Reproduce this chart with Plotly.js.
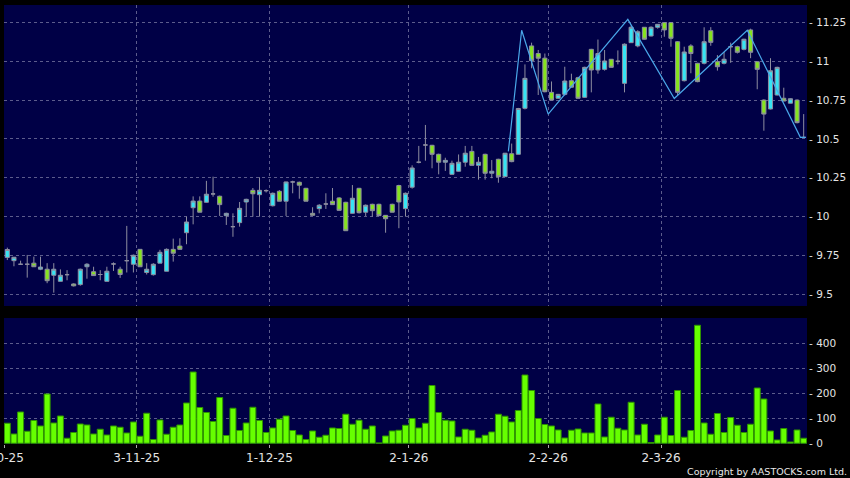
<!DOCTYPE html>
<html>
<head>
<meta charset="utf-8">
<script src="https://cdn.plot.ly/plotly-3.0.1.min.js"></script>
<style>
html,body{margin:0;padding:0;background:#000;}
#chart{width:850px;height:478px;}
</style>
</head>
<body>
<div id="chart"></div>
<script>
// ---- data (trading-day index 0 = 2-10-25) ----
const openP = [9.737,9.716,9.693,9.693,9.70,9.661,9.661,9.622,9.583,9.626,
9.566,9.562,9.677,9.645,9.627,9.583,9.695,9.661,9.716,9.693,
9.789,9.64,9.626,9.70,9.648,9.789,9.81,9.896,10.057,10.10,
10.092,10.146,10.131,10.006,9.935,9.961,10.094,10.169,10.141,10.167,
10.07,10.163,10.099,10.223,10.221,10.182,10.021,10.051,10.081,10.099,
10.12,10.092,10.021,10.182,10.028,10.079,10.079,10.008,10.079,10.20,
10.051,10.189,10.35,10.461,10.459,10.401,10.35,10.272,10.292,10.35,
10.42,10.33,10.401,10.279,10.369,10.257,10.405,10.401,10.697,11.099,
11.05,11.02,10.80,10.762,10.787,10.875,10.894,10.768,11.077,10.944,
10.948,11.013,11.0,10.858,11.12,11.099,11.219,11.163,11.219,11.249,
11.249,11.126,10.875,11.099,10.987,10.987,11.197,10.997,10.987,11.094,
11.094,11.077,11.202,10.997,10.75,10.693,10.783,10.762,10.73,10.75,
10.51];
const highP = [9.80,9.74,9.716,9.753,9.742,9.742,9.70,9.70,9.66,9.655,
9.57,9.665,9.70,9.677,9.655,9.677,9.705,9.677,9.94,9.755,
9.79,9.70,9.70,9.786,9.795,9.858,9.86,10.0,10.13,10.13,
10.23,10.257,10.135,10.025,10.021,10.094,10.115,10.184,10.253,10.175,
10.155,10.17,10.225,10.231,10.225,10.185,10.06,10.08,10.15,10.184,
10.125,10.095,10.203,10.185,10.078,10.083,10.083,10.01,10.083,10.205,
10.155,10.33,10.455,10.59,10.462,10.405,10.379,10.36,10.40,10.455,
10.455,10.384,10.405,10.364,10.372,10.41,10.47,10.70,10.98,11.12,
11.073,11.05,10.87,10.79,10.965,10.92,10.90,10.965,11.08,11.14,
11.073,11.015,11.07,11.115,11.23,11.20,11.22,11.225,11.24,11.25,
11.25,11.13,11.094,11.11,10.99,11.219,11.22,11.04,11.06,11.12,
11.10,11.145,11.21,11.0,10.755,11.02,10.965,10.83,10.762,10.755,
10.66];
const lowP = [9.72,9.68,9.693,9.607,9.677,9.655,9.571,9.51,9.583,9.59,
9.55,9.555,9.60,9.62,9.59,9.583,9.65,9.605,9.64,9.64,
9.677,9.627,9.62,9.70,9.648,9.71,9.789,9.822,9.95,10.028,
10.09,10.128,10.004,9.946,9.87,9.935,10.0,10.0,10.0,10.155,
10.065,10.099,10.004,10.15,10.115,10.099,10.008,10.021,10.049,10.077,
10.04,9.909,10.02,10.02,10.004,10.0,10.006,9.896,10.028,9.925,
10.0,10.18,10.343,10.36,10.311,10.272,10.294,10.27,10.29,10.321,
10.33,10.238,10.238,10.247,10.218,10.255,10.35,10.40,10.69,10.955,
10.783,10.80,10.75,10.76,10.78,10.833,10.76,10.765,10.80,10.92,
10.94,10.96,10.98,10.80,11.12,11.09,11.14,11.16,11.21,11.158,
11.094,10.78,10.87,10.923,10.865,10.98,11.10,10.94,10.98,10.99,
11.05,11.07,11.02,10.82,10.553,10.69,10.78,10.744,10.73,10.60,
10.51];
const closeP = [9.788,9.738,9.693,9.693,9.677,9.675,9.587,9.661,9.622,9.626,
9.554,9.661,9.693,9.62,9.627,9.648,9.695,9.627,9.716,9.751,
9.677,9.661,9.693,9.77,9.789,9.764,9.789,9.965,10.10,10.028,
10.144,10.146,10.077,10.021,9.935,10.053,10.111,10.147,10.169,10.167,
10.15,10.099,10.223,10.223,10.202,10.099,10.008,10.073,10.081,10.077,
10.04,9.909,10.118,10.025,10.073,10.038,10.006,9.986,10.028,10.094,
10.15,10.313,10.35,10.461,10.401,10.35,10.362,10.343,10.35,10.408,
10.33,10.35,10.279,10.292,10.257,10.408,10.354,10.696,10.89,11.004,
11.02,10.804,10.75,10.787,10.873,10.833,10.762,10.961,10.944,11.05,
11.002,10.961,11.0,11.11,11.219,11.19,11.142,11.219,11.238,11.202,
11.148,10.80,11.06,11.05,10.869,11.126,11.122,10.965,11.013,11.094,
11.058,11.142,11.058,10.948,10.66,10.939,10.961,10.744,10.759,10.605,
10.51];
const volume = [80,37,125,48,91,69,197,81,109,20,
43,77,73,37,56,33,69,64,41,85,
28,120,15,93,36,64,73,161,285,143,
123,87,183,31,140,51,81,144,91,43,
61,96,109,51,33,15,49,24,32,61,
59,116,76,92,56,69,1,29,49,52,
72,99,61,80,231,123,92,89,25,56,
52,21,32,45,116,108,85,131,273,211,
99,75,69,53,21,52,57,41,41,157,
25,104,60,53,164,33,76,3,33,104,
31,211,24,51,472,81,36,119,43,103,
72,43,76,221,177,49,13,59,5,53,
20];
// zigzag pivots (position in trading days, price)
const zigPos = [75.5,77.5,81.5,93.5,100.5,111.5,119.5,120.3];
const zigVal = [10.42,11.20,10.66,11.27,10.76,11.20,10.51,10.51];
// month tick labels (position = trading-day index of first day of month)
const tickDay = [0,20,40,61,82,99];
const tickText = ['2-10-25','3-11-25','1-12-25','2-1-26','2-2-26','2-3-26'];
const priceTicks = [9.5,9.75,10,10.25,10.5,10.75,11,11.25];
const volTicks = [0,100,200,300,400];

// ---- build ----
const idx = openP.map((_, i) => i);
const tickPos = tickDay.map(d => d - 0.5);
const FONT = 'DejaVu Sans';
const GRID = '#5c5c8c';
const LBL = '#e4e4e4';

const candle = {
  type: 'candlestick', x: idx, open: openP, high: highP, low: lowP, close: closeP,
  xaxis: 'x', yaxis: 'y', whiskerwidth: 0,
  increasing: {fillcolor: '#36e4f4', line: {color: '#8e8ea0', width: 1}},
  decreasing: {fillcolor: '#86e41e', line: {color: '#8e8ea0', width: 1}},
  hoverinfo: 'skip', showlegend: false
};
const zig = {
  type: 'scatter', mode: 'lines', x: zigPos, y: zigVal, xaxis: 'x', yaxis: 'y',
  line: {color: '#4aa8ea', width: 1.2}, hoverinfo: 'skip', showlegend: false
};
const vol = {
  type: 'bar', x: idx, y: volume, xaxis: 'x2', yaxis: 'y2', width: 0.9,
  marker: {color: '#66ff00', line: {color: '#2f9400', width: 1}},
  hoverinfo: 'skip', showlegend: false
};

const layout = {
  width: 850, height: 478,
  margin: {l: 4, r: 43, t: 5, b: 34},
  paper_bgcolor: '#000000', plot_bgcolor: '#000046',
  font: {family: FONT, color: LBL},
  boxgap: 0.12,
  showlegend: false,
  xaxis: {
    domain: [0, 1], anchor: 'y', range: [-0.5, 120.5],
    rangeslider: {visible: false},
    tickmode: 'array', tickvals: tickPos, ticktext: tickText, showticklabels: false,
    ticks: '', showgrid: true, gridcolor: GRID, griddash: '3px,3px', gridwidth: 1,
    zeroline: false, showline: false
  },
  yaxis: {
    domain: [0.3144, 1], anchor: 'x', side: 'right', range: [9.4243, 11.3625],
    tickmode: 'array', tickvals: priceTicks,
    ticktext: priceTicks.map(v => '- ' + String(v)),
    ticks: '', ticklabelstandoff: 1,
    tickfont: {family: FONT, size: 10.5, color: LBL},
    showgrid: true, gridcolor: GRID, griddash: '3px,3px', gridwidth: 1,
    zeroline: false, showline: false
  },
  xaxis2: {
    domain: [0, 1], anchor: 'y2', range: [-0.5, 120.5], matches: 'x',
    tickmode: 'array', tickvals: tickPos, ticktext: tickText,
    ticks: 'outside', ticklen: 3, tickcolor: '#aaaaaa', tickwidth: 1,
    tickfont: {family: FONT, size: 12, color: LBL},
    showgrid: true, gridcolor: GRID, griddash: '3px,3px', gridwidth: 1,
    zeroline: false, showline: false
  },
  yaxis2: {
    domain: [0, 0.287], anchor: 'x2', side: 'right', range: [-3, 501],
    tickmode: 'array', tickvals: volTicks,
    ticktext: volTicks.map(v => '- ' + String(v)),
    ticks: '', ticklabelstandoff: 1,
    tickfont: {family: FONT, size: 10.5, color: LBL},
    showgrid: true, gridcolor: GRID, griddash: '3px,3px', gridwidth: 1,
    zeroline: false, showline: false
  },
  annotations: [{
    // first month label sits on the left edge of the plot and is cut off
    text: tickText[0], xref: 'x2', yref: 'paper',
    x: tickPos[0], y: 0, xanchor: 'center', yanchor: 'middle', yshift: -14, xshift: -4,
    showarrow: false, font: {family: FONT, size: 12, color: LBL}
  }, {
    text: 'Copyright by AASTOCKS.com Ltd.', xref: 'paper', yref: 'paper',
    x: 1.0523, y: -0.0626, xanchor: 'right', yanchor: 'middle', showarrow: false,
    font: {family: FONT, size: 9.5, color: '#e8e8e8'}
  }]
};

Plotly.newPlot('chart', [candle, zig, vol], layout, {displayModeBar: false, staticPlot: true});
</script>
</body>
</html>
